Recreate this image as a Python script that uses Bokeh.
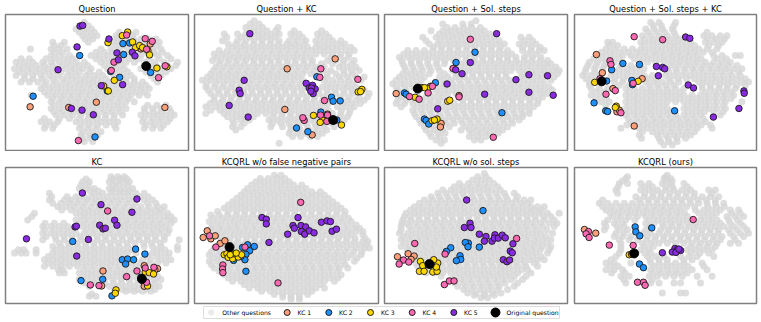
from bokeh.plotting import figure
from bokeh.layouts import column, row
from bokeh.models import Range1d
from bokeh.core.properties import value
from bokeh.embed import file_html
from bokeh.resources import INLINE

TITLES = ["Question", "Question + KC", "Question + Sol. steps", "Question + Sol. steps + KC",
          "KC", "KCQRL w/o false negative pairs", "KCQRL w/o sol. steps", "KCQRL (ours)"]
LEGEND_LABELS = ["Other questions", "KC 1", "KC 2", "KC 3", "KC 4", "KC 5", "Original question"]

# ---- background questions, as rows (y, [x, ...])
gray_1 = [
 (65,[250]),(85,[225,250,272]),(105,[245,268,288,345,370,395]),
 (125,[155,190,262,340,362,385,410,430,452,475]),
 (145,[88,150,172,198,300,330,355,380,405,430,455,480]),
 (165,[150,175,205,270,295,320,345,370,395,420,445,470,500]),
 (185,[45,70,95,125,150,175,200,225,250,300,325,350,375,400,430,460,490,530]),
 (205,[40,65,90,115,140,165,195,220,245,270,320,345,370,420,450,480,510]),
 (225,[45,70,95,120,145,170,200,225,255,280,305,340,365,390,450,480]),
 (245,[60,85,110,135,165,195,225,250,275,300,325,350,375,400,425,470]),
 (265,[120,145,170,195,220,245,270,295,320,345,370,395,420,445]),
 (285,[90,140,165,190,215,240,265,290,315,340,365,390,415,440]),
 (305,[150,175,200,225,250,275,300,325,350,375,400]),
 (325,[150,175,200,225,250,275,300,325,350,375,430,455,480,505]),
 (345,[165,190,215,240,265,290,315,340,365,420,445,470,495,520]),
 (365,[120,145,170,225,250,275,300,325,350,425,450,475,500]),
 (385,[130,155,235,260,285,345,430,455,480]),
 (405,[240,265,290]),(425,[250,275]),
 (75,[238,262]),(95,[235,258,280,355,382,405]),(115,[252,275,350,375,398,420,442,465]),
 (135,[160,180,345,370,395,418,442,468]),(155,[160,185,285,310,335,360,385,410,435,460,485]),
 (175,[60,85,135,160,190,215,285,310,335,360,385,412,445,475,510]),
 (195,[55,80,105,130,155,185,210,235,260,310,335,360,430,465,500,525]),
 (215,[55,80,105,130,155,180,210,235,265,295,330,355,380,435,465,495]),
 (235,[70,95,125,155,185,212,240,265,290,315,345,375,400,460]),
 (255,[130,155,180,208,235,262,288,312,338,362,388,412,435]),
 (275,[130,155,180,205,232,255,280,305,330,355,380,405,430]),
 (295,[155,182,208,232,258,282,308,332,358,382]),
 (315,[160,188,212,238,262,288,312,338,362,440,468,495]),
 (335,[158,182,208,232,258,282,308,332,358,432,458,482,510]),
 (355,[130,175,205,235,262,288,312,338,430,458,482,508]),
 (375,[135,160,240,265,290,315,340,435,462,488]),(395,[248,275,300]),(415,[245,268]),
]
gray_2 = [
 (60,[190]),(80,[165,190,215,262]),(100,[100,140,165,190,215,240,265,300,325,380,405]),
 (120,[95,140,165,190,215,240,265,295,320,345,375,400,425,450]),
 (140,[125,150,175,200,225,250,275,300,325,350,375,400,425,450,480]),
 (160,[70,95,120,145,170,195,220,245,270,295,320,345,375,400,425,450,475]),
 (180,[65,90,115,140,165,190,215,240,265,290,315,340,365,410,435,460,490]),
 (200,[75,100,125,150,175,200,225,250,275,300,325,350,375,400,445,470,495]),
 (220,[60,85,110,135,160,185,210,235,260,285,310,335,360,385,410,435,460,485]),
 (240,[35,60,85,110,135,160,185,210,235,260,285,310,335,400,425,450,475,510]),
 (260,[45,70,95,120,145,170,195,220,245,270,295,320,345,370,395,420,445,470,495]),
 (280,[60,85,110,135,160,185,210,235,260,285,310,335,360,385,410,435,460,485,535]),
 (300,[70,95,120,145,170,195,220,245,270,295,320,345,370,395,420,445,470,495,520]),
 (320,[45,75,100,125,150,175,200,225,250,275,300,325,350,375,400,440,465,490]),
 (340,[45,100,125,150,175,200,225,250,275,300,325,350,375,400,425,450,475]),
 (360,[125,150,175,235,260,285,310,335,360,385,410,435,460]),
 (380,[125,150,240,275,300,325,350,375,400,430]),
 (400,[295,320,345,370,395]),(430,[265]),
 (70,[178,205]),(90,[178,202,228,255,310,392]),(110,[108,152,178,205,228,252,310,335,390,415]),
 (130,[112,135,160,188,212,238,262,288,312,338,385,412,438,462]),
 (150,[85,110,138,162,188,212,238,262,288,312,338,362,388,412,438,465,490]),
 (170,[78,105,130,155,180,205,230,258,282,308,332,358,420,448,472]),
 (190,[85,110,135,160,188,212,238,262,288,312,338,362,392,425,455,482]),
 (210,[68,92,118,142,168,192,218,242,268,292,318,342,368,395,420,458,482,505]),
 (230,[50,72,98,122,148,172,198,222,248,272,298,322,408,445,470,495,520]),
 (250,[48,75,100,125,150,178,202,228,252,278,302,328,410,435,462,485]),
 (270,[52,82,108,132,158,182,208,232,258,282,308,332,358,382,408,432,458,482,520]),
 (290,[70,98,122,148,172,198,222,248,272,298,322,348,372,398,450,475,505,530]),
 (310,[58,85,112,138,162,188,212,238,262,288,312,338,362,388,412,455,480,508]),
 (330,[60,88,112,138,162,188,212,238,262,288,312,338,362,388,412,452,478]),
 (350,[110,138,162,188,245,272,298,322,348,372,398,422,448,470]),
 (370,[130,160,245,270,295,320,345,372,398,422,448]),
 (390,[135,300,328,355,382,408]),(410,[305,330,358,380]),
]
gray_3 = [
 (60,[285]),(70,[185,245,270]),(90,[150,185,210,235,260,285,310]),
 (110,[125,165,190,215,240,265,290,315,340,420,445]),
 (130,[145,170,195,220,245,270,295,320,345,370,415,440,465]),
 (150,[80,105,130,155,180,205,230,255,280,305,330,355,380,425,450,475,490]),
 (170,[55,80,105,130,155,180,205,230,255,280,305,330,355,380,405,430,455,480]),
 (190,[65,90,115,140,165,190,240,265,290,315,340,365,390,415,440,465,490,510]),
 (210,[75,100,125,150,175,215,240,265,290,315,340,365,390,415,440,465,490,515,535]),
 (230,[55,80,105,130,175,200,225,250,275,300,325,350,375,420,445,470,495,520]),
 (250,[35,60,85,110,190,215,240,265,290,315,340,365,390,415,440,465,490]),
 (270,[50,75,165,190,215,240,265,290,315,340,365,390,415,440,465,490,515]),
 (290,[60,85,110,135,160,185,235,260,285,310,335,360,385,410,435,460,485]),
 (310,[45,70,95,120,145,170,195,220,245,270,295,320,345,370,395,420,445,470]),
 (330,[95,120,145,170,195,220,245,270,295,320,345,370,395,420,445]),
 (350,[105,130,155,180,205,230,255,280,305,330,355,380,405,425]),
 (370,[120,145,170,195,220,245,270,295,320,345,370,395]),
 (390,[135,160,185,240,265,290,315,340,365]),
 (410,[150,175,265,290,315]),(430,[180]),
 (80,[198,222,248,272,298]),(100,[175,200,225,250,275,300,325]),
 (120,[135,178,205,230,255,280,305,330,355,430,455]),
 (140,[158,182,208,232,258,282,308,332,358,425,452,478]),
 (160,[68,92,118,142,168,192,218,242,268,292,318,342,368,392,440,465]),
 (180,[62,90,115,140,168,192,218,255,280,305,330,355,380,405,430,452,478,500]),
 (200,[70,95,120,145,170,250,275,300,325,350,375,400,425,450,478,500,525]),
 (220,[65,90,115,145,190,225,250,275,300,325,350,375,430,455,480,505,530]),
 (240,[45,70,95,120,185,210,235,260,285,310,335,360,385,430,455,480,510]),
 (260,[45,70,95,175,200,225,250,275,300,325,350,375,400,425,450,478,505]),
 (280,[55,145,175,200,225,250,275,300,325,350,375,400,425,450,478,500]),
 (300,[50,75,100,125,150,175,205,245,270,295,320,345,370,395,420,448,472]),
 (320,[60,108,132,158,182,208,232,258,282,308,332,358,382,408,432,458]),
 (340,[100,125,150,175,200,225,250,275,300,325,350,375,400,425,445]),
 (360,[115,140,165,190,215,240,265,290,315,340,365,390,415]),
 (380,[130,155,180,205,255,280,305,330,355,380]),
 (400,[145,170,192,275,300,325,352]),(420,[165,190,280,300]),
]
gray_4 = [
 (65,[240,265,315]),(85,[225,250,275,305]),(105,[215,240,265,290,315,400,425,450,470]),
 (125,[110,125,210,235,260,285,310,335,360,405,430,455]),
 (145,[105,130,160,185,210,235,260,285,310,335,360,385,410,440]),
 (165,[80,105,130,155,180,205,230,255,280,305,330,355,380,430,455,495,510]),
 (185,[55,80,105,130,155,205,230,255,280,305,330,355,380,405,430,455,480]),
 (205,[45,70,95,145,170,195,220,290,315,340,365,390,415,440,465,490,515]),
 (225,[35,60,85,120,145,170,195,220,245,285,310,335,360,385,410,435,460,485,510]),
 (245,[55,130,155,225,250,275,300,325,385,410,435,460,485,515,535]),
 (265,[60,85,110,165,190,215,240,265,290,315,340,395,420,445,470,495]),
 (285,[60,90,165,190,215,240,265,290,315,340,365,390,415,440,465,490]),
 (305,[90,115,165,190,215,240,265,290,315,340,365,390,415,440,465,515]),
 (325,[165,190,215,240,265,290,340,365,390,415,440,465]),
 (345,[165,190,215,240,265,290,315,340,365,390,450]),
 (365,[180,205,230,255,280,305,330,355,380,405]),
 (385,[150,205,230,255,280,305,330,355,380,425]),
 (405,[205,260,285,310,335,360]),(425,[270,295,320]),
 (75,[248,272,310]),(95,[232,258,282,310,410]),(115,[222,248,272,298,325,350,412,438,462]),
 (135,[115,140,220,248,272,298,322,348,372,415,445]),
 (155,[92,118,145,172,198,222,248,272,298,322,348,372,398,425]),
 (175,[68,92,118,145,190,218,242,268,292,318,342,368,392,440,468]),
 (195,[50,75,100,150,180,208,298,322,348,372,398,422,448,472,500]),
 (215,[42,72,132,158,182,208,295,320,345,372,398,425,452,478,505]),
 (235,[45,75,132,158,232,258,295,322,348,372,398,425,450,475,500,525]),
 (255,[55,145,175,235,260,285,310,395,420,448,472,500,525]),
 (275,[75,100,175,200,228,252,278,302,328,405,432,458,482]),
 (295,[75,105,175,200,228,252,278,302,328,355,380,405,432,458,482]),
 (315,[105,175,200,228,252,278,352,378,405,432,458]),
 (335,[175,200,228,252,278,300,352,378,402,430,458]),
 (355,[172,198,222,248,272,298,322,348,372,398]),
 (375,[168,192,218,242,268,292,318,342,368,392,420]),
 (395,[215,245,270,298,322,348,372]),(415,[212,265,292,318,345]),(435,[280,305]),
]
gray_5 = [
 (65,[330,350,370]),(80,[245,265,325,345,365,385]),(100,[235,255,280,325,345,370,395]),
 (115,[145,280,305,330,355,380,405,430]),
 (135,[145,190,210,235,260,285,310,335,360,385,430,455]),
 (155,[170,195,220,245,270,295,320,345,370,395,420,445,470,490]),
 (175,[100,225,250,275,300,325,350,375,400,425,450,475,500]),
 (195,[80,225,250,275,300,325,350,375,400,425,450,475,500,520]),
 (215,[125,150,175,200,245,270,295,320,345,370,395,420,445,470,495]),
 (235,[125,150,175,200,225,250,275,300,325,350,375,400,425,450,475,500]),
 (255,[125,165,190,215,240,265,290,315,340,365,390,415,440,465,490,535]),
 (275,[155,180,205,230,255,280,305,330,355,380,430,455,480,530]),
 (295,[40,60,75,105,155,180,205,230,255,280,305,330,355,380,405,455,480,505]),
 (315,[130,155,180,205,230,255,280,305,330,355,425,450,480,510]),
 (335,[130,155,180,205,230,255,280,305,330,355,380,405,430,460]),
 (355,[175,190,235,260,285,310,335,360,385,410]),
 (375,[235,260,285,310,335,360,385,410,435,460,480]),
 (395,[265,300,325,350,375,400,425,450,475]),
 (410,[375,400,425,450]),(425,[265,285]),
 (72,[255,335,358,378]),(90,[240,262,335,355,380]),(108,[245,268,292,335,360,385]),
 (125,[152,198,225,250,272,295,320,345,370,395,418,442]),
 (145,[155,180,205,228,252,278,302,328,352,378,402,440,465]),
 (165,[182,210,238,262,288,312,338,362,388,412,438,462,482]),
 (185,[92,240,262,288,312,338,362,388,412,438,462,490,510]),
 (205,[132,160,188,235,258,282,308,332,358,382,408,432,458,482,510]),
 (225,[132,160,188,212,258,282,308,332,358,382,408,432,458,482,505]),
 (245,[135,162,188,212,238,262,288,312,338,362,388,412,438,462,490]),
 (265,[175,202,228,252,278,302,328,352,378,402,428,452,478]),
 (285,[52,68,105,165,192,218,242,268,292,318,342,368,392,468,492,530]),
 (305,[142,168,192,218,242,268,292,318,342,368,440,468,495]),
 (325,[142,168,192,218,242,268,292,318,342,368,392,418,445,470,495]),
 (345,[172,185,248,272,298,322,348,372,398,422]),
 (365,[248,272,298,322,348,372,398,422,448,470]),
 (385,[250,278,312,338,362,388,412,438,462]),
 (405,[340,365,388,412,438,462]),(418,[272]),
]
gray_6 = [
 (60,[250,270]),(80,[195,220,245,270,295]),(100,[170,195,220,245,270,295,320,345]),
 (120,[150,175,200,225,250,275,300,325,350,375,400]),
 (140,[125,150,175,200,225,250,275,300,325,350,375,400,425]),
 (160,[100,125,150,175,200,225,250,275,300,325,350,375,400,425,450]),
 (180,[60,85,110,135,160,185,210,235,260,285,310,335,360,385,410,435,460]),
 (200,[55,80,105,130,155,180,205,230,255,280,305,330,355,380,405,430,455,480]),
 (220,[60,85,110,135,160,185,210,235,260,285,310,335,360,385,410,435,460,485,505]),
 (240,[80,105,130,155,180,205,230,255,280,305,330,355,380,405,430,455,480,515]),
 (260,[90,115,140,165,190,215,240,265,290,315,340,365,390,415,440,465,490,515,530]),
 (280,[70,95,120,145,170,195,220,245,270,295,320,345,370,395,420,445,470,495,520,535]),
 (300,[55,80,105,130,155,180,205,230,255,280,305,330,355,380,405,430,455,480,510]),
 (320,[55,80,105,130,155,180,205,230,255,280,305,330,355,380,405,430,455,490]),
 (340,[70,95,120,145,170,195,220,245,270,295,320,345,370,395,420,445,470]),
 (360,[100,125,150,175,200,225,250,275,300,325,350,375,400,425,450]),
 (380,[125,150,175,200,225,250,275,300,325,350,375,400,430]),
 (400,[175,200,225,250,275,300,325,350,375,400]),
 (420,[250,275,300,325,350]),(435,[300,325]),
 (70,[208,232,258,282]),(90,[182,208,232,258,282,308,332]),
 (110,[160,185,210,235,260,285,310,335,362,388]),
 (130,[138,162,188,212,238,262,288,312,338,362,388,412]),
 (150,[112,138,162,188,212,238,262,288,312,338,362,388,412,438]),
 (170,[80,112,138,162,188,212,238,262,288,312,338,362,388,412,438,462]),
 (190,[68,95,120,145,170,198,222,248,272,298,322,348,372,398,422,448,472]),
 (210,[68,92,118,142,168,192,218,242,268,292,318,342,368,392,418,442,468,495]),
 (230,[70,95,120,145,170,195,220,245,270,295,320,345,370,395,420,445,470,495,515]),
 (250,[92,118,142,168,192,218,242,268,292,318,342,368,392,418,442,468,492,522]),
 (270,[82,105,130,155,180,205,230,255,280,305,330,355,380,405,430,455,480,505,525]),
 (290,[62,88,112,138,162,188,212,238,262,288,312,338,362,388,412,438,462,488,512]),
 (310,[68,92,118,142,168,192,218,242,268,292,318,342,368,392,418,442,468,498]),
 (330,[62,88,112,138,162,188,212,238,262,288,312,338,362,388,412,438,462]),
 (350,[85,112,138,162,188,212,238,262,288,312,338,362,388,412,438]),
 (370,[112,138,162,188,212,238,262,288,312,338,362,388,415,440]),
 (390,[160,188,212,238,262,288,312,338,362,388]),
 (410,[212,238,262,288,312,338,362]),(428,[275,300,325]),
]
gray_7 = [
 (55,[310]),(75,[275,300,325]),(95,[220,245,270,295,320,350]),
 (115,[170,195,220,245,270,295,320,345,370,400]),
 (135,[130,155,180,205,230,255,280,305,330,355,380,405,430,450]),
 (155,[100,125,150,175,200,225,250,275,300,325,350,375,400,425,450,470,490]),
 (175,[75,100,125,150,175,200,225,250,275,300,325,350,375,400,425,450,475,500,535]),
 (195,[65,90,115,140,165,190,215,240,265,290,315,340,365,390,415,440,465,490,520]),
 (215,[60,85,110,135,160,185,210,235,260,285,310,335,360,385,410,435,460,485,520]),
 (235,[55,80,105,130,155,180,205,230,255,280,305,330,355,380,405,430,455,480,515]),
 (255,[60,85,110,135,160,185,210,235,260,285,310,335,360,385,410,435,460,485,510]),
 (275,[60,85,110,135,160,185,210,235,260,285,310,335,360,385,410,435,460,485,510]),
 (295,[90,115,140,165,190,215,240,265,290,315,340,365,390,415,440,465,500]),
 (315,[95,120,145,170,195,220,245,270,295,320,345,370,395,420,445,470,490]),
 (335,[110,135,160,185,210,235,260,285,310,335,360,385,410,435,470]),
 (355,[135,160,185,210,235,260,285,310,335,360,385,410,450]),
 (375,[215,240,265,290,315,340,365,390,425]),
 (395,[230,255,280,305,330,355,400]),(415,[260,285,310,335,360]),(430,[300,320]),
 (65,[290,315]),(85,[235,262,288,312,338]),(105,[185,210,235,258,282,308,332,358]),
 (125,[150,175,200,225,250,275,300,325,350,375,410]),
 (145,[115,142,168,192,218,242,268,292,318,342,368,392,418,440]),
 (165,[88,112,138,162,188,212,238,262,288,312,338,362,388,412,438,460,482]),
 (185,[70,88,112,138,162,188,212,238,262,288,312,338,362,388,412,438,462,488,510]),
 (205,[62,78,102,128,152,178,202,228,252,278,302,328,352,378,402,428,452,478,505,528]),
 (225,[60,92,118,142,168,192,218,242,268,292,318,342,368,392,418,442,468,498]),
 (245,[68,92,118,142,168,192,218,242,268,292,318,342,368,392,418,442,468,495]),
 (265,[72,98,122,148,172,198,222,248,272,298,322,348,372,398,422,448,472,498]),
 (285,[78,102,128,152,178,202,228,252,278,302,328,352,378,402,428,452,478,505]),
 (305,[105,130,155,180,205,230,255,280,305,330,355,380,405,430,455,480]),
 (325,[105,130,155,180,205,230,255,280,305,330,355,380,405,430,460]),
 (345,[122,148,172,198,222,248,272,298,322,348,372,398,422,440]),
 (365,[180,225,250,275,300,325,350,375,400,435]),
 (385,[222,248,272,298,322,348,372,410]),(405,[248,272,298,322,348,380]),(422,[280,310,340]),
]
gray_8 = [
 (60,[290]),(70,[165,280,300]),(85,[145,170,210,235,275,300,340]),
 (105,[135,210,235,260,285,310,335,360,415,435]),
 (125,[195,220,245,270,295,320,345,370,395,420,445]),
 (145,[85,110,135,160,185,210,235,260,285,310,335,360,385,410,435,460]),
 (165,[105,130,155,180,205,230,255,280,305,330,375,400,425,450,480,505]),
 (185,[125,150,175,200,225,250,275,300,325,350,400,425,470,495,520]),
 (205,[100,130,155,225,250,275,300,325,350,375,400,425,450,480,510]),
 (225,[100,145,170,225,270,295,320,345,370,395,420,445,475,500,530]),
 (245,[130,155,180,205,230,255,280,305,330,355,380,405,430,455,490,520]),
 (265,[150,215,240,265,290,315,340,365,390,415,440,480,505]),
 (285,[150,210,235,350,375,400,425]),
 (305,[135,230,255,280,330,355,380,430]),
 (325,[105,130,180,240,265,290,315,340,395]),
 (345,[105,130,155,240,265,290,315,340,365,410]),
 (365,[150,175,235,260,285,310,335,380,425]),
 (385,[165,240,265,310,330,390]),(415,[275,330,345]),
 (65,[170,285]),(78,[155,285,305]),(95,[142,222,245,285,305,350]),
 (115,[140,222,248,272,298,322,348,372,425]),
 (135,[95,205,232,258,282,308,332,358,382,408,435]),
 (155,[95,120,148,172,198,222,248,272,298,322,348,372,412,438,462]),
 (175,[118,142,168,192,218,242,268,292,318,342,385,412,438,485,510]),
 (195,[110,140,165,192,235,262,288,312,338,362,390,415,440,475,502]),
 (215,[105,138,160,235,280,305,330,358,382,408,435,460,490,520]),
 (235,[135,160,218,240,265,290,318,342,368,392,418,442,480,510,535]),
 (255,[145,175,200,228,252,278,302,328,352,378,402,428,450,495]),
 (275,[150,222,248,360,385,410,435]),(295,[145,222,240,362,388,415]),
 (315,[120,238,265,290,340,365]),(335,[118,142,252,278,302,328,352,400]),
 (355,[122,162,248,272,298,322,350]),(375,[158,245]),
]
GRAY = [gray_1, gray_2, gray_3, gray_4, gray_5, gray_6, gray_7, gray_8]

# ---- highlighted questions, (x, y); one list per panel and KC
p1_kc1 = [(87,320),(203,322),(286,306),(492,322),(448,130),(441,150),(420,145)]
p1_kc2 = [(236,165),(366,129),(386,127),(368,162),(329,213),(356,231),(449,216),(96,288),(282,411),(319,272)]
p1_kc3 = [(321,126),(364,105),(380,94),(395,124),(404,141),(416,135),(425,141),(446,163),(468,203),(340,240),(322,272),(308,257),(498,199)]
p1_kc4 = [(377,103),(433,114),(454,122),(437,146),(339,185),(331,210),(493,196),(473,232),(232,422)]
p1_kc5 = [(237,76),(245,74),(324,115),(228,139),(171,208),(348,157),(352,178),(394,155),(402,166),(301,256),(365,253),(211,325),(243,330),(277,344)]
p1_orig = [(436,197)]

p2_kc1 = [(433,175),(289,205),(282,328),(364,405),(410,342)]
p2_kc2 = [(378,229),(422,291),(427,303),(448,302),(390,336),(317,384),(351,395),(438,360)]
p2_kc3 = [(368,346),(395,360),(388,367),(452,375),(502,275),(513,267),(509,274)]
p2_kc4 = [(390,205),(387,231),(501,237),(401,301),(340,361),(336,353),(389,345),(410,345),(408,364)]
p2_kc5 = [(177,99),(160,240),(145,270),(148,280),(115,316),(172,351),(346,249),(365,255),(355,263),(373,266),(362,263),(367,280),(360,273)]
p2_orig = [(427,360)]

p3_kc1 = [(45,280),(148,258),(234,286),(180,370),(178,381)]
p3_kc2 = [(282,155),(225,186),(163,247),(70,278),(75,282),(130,357),(135,361),(143,372),(363,338)]
p3_kc3 = [(122,262),(139,264),(130,262),(102,291),(200,303),(206,300),(153,362),(168,357),(160,360)]
p3_kc4 = [(268,116),(216,204),(154,258),(141,278),(85,289),(114,297),(234,290),(337,412)]
p3_kc5 = [(347,99),(268,186),(224,208),(243,220),(198,251),(311,282),(405,238),(444,223),(500,226),(444,276),(517,285),(170,326)]
p3_orig = [(110,265)]

p4_kc1 = [(76,162),(94,217),(214,235),(126,265),(138,335),(145,330),(190,378)]
p4_kc2 = [(156,189),(206,192),(122,208),(183,240),(185,253),(107,242),(69,308),(104,332),(110,334),(312,332)]
p4_kc3 = [(71,246),(202,243),(136,318),(133,322)]
p4_kc4 = [(190,108),(276,117),(117,181),(120,192),(87,235),(187,249),(133,271),(105,282),(150,338)]
p4_kc5 = [(345,109),(358,113),(257,198),(276,201),(282,205),(263,226),(353,254),(369,263),(521,272),(522,279),(506,325),(429,351)]
p4_orig = [(92,243)]

p5_kc1 = [(306,349),(430,333),(470,342),(302,394),(430,395),(462,345)]
p5_kc2 = [(215,260),(404,283),(432,298),(364,315),(380,313),(398,315),(374,328),(240,378),(305,374),(333,424),(420,368)]
p5_kc3 = [(433,352),(445,354),(458,358),(345,406),(343,416),(440,394)]
p5_kc4 = [(320,168),(408,349),(433,340),(459,338),(377,366),(268,391),(294,393),(437,383)]
p5_kc5 = [(244,114),(300,149),(408,132),(393,172),(341,196),(296,211),(348,211),(222,216),(226,214),(306,222),(313,220),(76,252),(262,254),(227,304)]
p5_orig = [(423,373)]

p6_kc1 = [(49,228),(37,248),(60,252),(73,243),(88,266),(102,258)]
p6_kc2 = [(155,278),(170,270),(190,275),(176,288),(165,299),(162,315),(128,317),(165,350),(150,305)]
p6_kc3 = [(100,300),(108,297),(112,308),(125,312),(130,297),(142,307),(152,300),(118,300),(136,295)]
p6_kc4 = [(329,142),(56,243),(75,277),(162,277),(96,331),(95,343),(96,354),(261,385)]
p6_kc5 = [(213,188),(226,193),(226,207),(321,188),(306,212),(310,220),(330,212),(344,216),(331,230),(341,238),(355,228),(369,234),(290,238),(234,263),(391,202),(408,198),(418,200),(423,229),(436,223)]
p6_orig = [(116,277)]

p7_kc1 = [(49,306),(81,297),(99,304),(90,314)]
p7_kc2 = [(306,167),(209,279),(196,290),(262,265),(253,263),(261,276),(295,277),(237,303),(239,314),(226,318)]
p7_kc3 = [(118,320),(125,333),(115,350),(129,350),(155,352),(168,350),(170,325),(158,315),(166,337),(150,330)]
p7_kc4 = [(407,251),(101,266),(192,298),(67,316),(83,322),(54,328),(190,390),(205,379),(219,379)]
p7_kc5 = [(257,135),(267,205),(250,218),(270,218),(295,238),(315,245),(310,259),(333,259),(342,240),(340,250),(352,250),(364,241),(373,249),(396,267),(388,289),(394,294),(367,315),(378,321),(386,316)]
p7_orig = [(145,328)]

p8_kc1 = [(40,224),(74,235)]
p8_kc2 = [(193,216),(243,219),(195,231),(207,243),(206,328),(218,339)]
p8_kc3 = [(175,300),(182,298),(188,296)]
p8_kc4 = [(368,194),(52,230),(45,237),(54,248),(115,271),(187,272),(200,383),(218,383),(223,392)]
p8_kc5 = [(275,294),(313,281),(320,285),(330,287),(305,292),(316,293),(325,283)]
p8_orig = [(190,296)]

KC_SETS = [
 [p1_kc1,p1_kc2,p1_kc3,p1_kc4,p1_kc5,p1_orig],[p2_kc1,p2_kc2,p2_kc3,p2_kc4,p2_kc5,p2_orig],
 [p3_kc1,p3_kc2,p3_kc3,p3_kc4,p3_kc5,p3_orig],[p4_kc1,p4_kc2,p4_kc3,p4_kc4,p4_kc5,p4_orig],
 [p5_kc1,p5_kc2,p5_kc3,p5_kc4,p5_kc5,p5_orig],[p6_kc1,p6_kc2,p6_kc3,p6_kc4,p6_kc5,p6_orig],
 [p7_kc1,p7_kc2,p7_kc3,p7_kc4,p7_kc5,p7_orig],[p8_kc1,p8_kc2,p8_kc3,p8_kc4,p8_kc5,p8_orig],
]

# ---- styles and layout
COLORS = ["#FFA07A", "#1E90FF", "#FFD700", "#FF69B4", "#8A2BE2", "#000000"]
GRAY_COLOR = "#d6d6d6"
FRAME_COLOR = "#808080"
FONT = "DejaVu Sans"
# axis limits of each panel: x0, x1, y_top, y_bottom
LIMITS = [(13,563,41,452),(11,563,41,452),(10,560,41,452),(10,559,41,452),
          (13,563,37,447),(11,562,37,447),(10,560,37,447),(10,559,37,447)]
BORDER_LEFT = [5,4,4,4]
FRAME_W = [183,184,183,182]
FIG_W = 190


def panel(i):
    col = i % 4
    top_row = i < 4
    x0, x1, yt, yb = LIMITS[i]
    top = 14 if top_row else 16
    bottom = 1 if top_row else 2
    h = top + 136 + bottom
    p = figure(width=FIG_W, height=h, toolbar_location=None, tools="", output_backend="svg",
               x_axis_type=None, y_axis_type=None,
               x_range=Range1d(x0, x1), y_range=Range1d(yb, yt),
               min_border_left=BORDER_LEFT[col], min_border_right=FIG_W-BORDER_LEFT[col]-FRAME_W[col],
               min_border_top=top, min_border_bottom=bottom,
               title=TITLES[i], background_fill_color="white", border_fill_color="white")
    p.grid.visible = False
    p.outline_line_color = FRAME_COLOR
    p.outline_line_width = 1.5
    p.title.align = "center"
    p.title.text_font = FONT
    p.title.text_font_size = "8.3px"
    p.title.text_font_style = "normal"
    p.title.text_color = "#000000"
    p.title.standoff = 1
    gx, gy = [], []
    for y, xs in GRAY[i]:
        for x in xs:
            gx.append(x); gy.append(y)
    p.scatter(gx, gy, size=7.0, fill_color=GRAY_COLOR, fill_alpha=0.8, line_color=None)
    for k, pts in enumerate(KC_SETS[i]):
        xs = [q[0] for q in pts]; ys = [q[1] for q in pts]
        big = k == 5
        p.scatter(xs, ys, size=9.0 if big else 6.5, fill_color=COLORS[k],
                  line_color="#000000" if big else "#1a1a1a", line_width=1.0, line_alpha=0.9)
    return p


def legend_fig():
    # horizontal positions (in page pixels) of key and label of each entry
    key_x = [210.7, 286.7, 328.3, 370, 411.7, 453.3, 495]
    lab_x = [221.7, 297, 338.5, 380.5, 422, 463.5, 506]
    BOX_L, BOX_R = 203, 559
    p = figure(width=760, height=14, toolbar_location=None, tools="", output_backend="svg",
               x_axis_type=None, y_axis_type=None,
               x_range=Range1d(BOX_L, BOX_R), y_range=Range1d(0, 1),
               min_border_left=BOX_L, min_border_right=760-BOX_R, min_border_top=1, min_border_bottom=1,
               background_fill_color="white", border_fill_color="white")
    p.grid.visible = False
    p.outline_line_color = "#dddddd"
    p.outline_line_width = 1
    p.scatter(key_x[:1], [0.5], size=6, fill_color=GRAY_COLOR, fill_alpha=0.5, line_color=None)
    for k in range(5):
        p.scatter([key_x[k+1]], [0.5], size=6, fill_color=COLORS[k], line_color="#1a1a1a", line_width=1)
    p.scatter(key_x[6:], [0.5], size=9, fill_color=COLORS[5], line_color="#000000", line_width=1)
    p.text(lab_x, [0.5]*7, text=LEGEND_LABELS, text_font=value(FONT), text_font_size="6.1px",
           text_baseline="middle", text_align="left", text_color="#000000")
    return p


figs = [panel(i) for i in range(8)]
layout = column(row(*figs[:4]), row(*figs[4:]), legend_fig())
open("out.html", "w").write(file_html(layout, INLINE))
